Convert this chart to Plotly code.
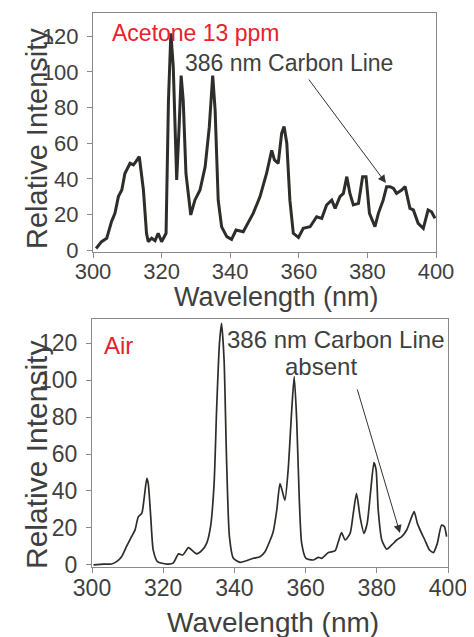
import plotly.graph_objects as go

# Acetone 13 ppm spectrum (top)
wl_acetone = [300.9, 302.5, 304.0, 305.4, 306.4, 307.4, 308.4, 309.3, 310.8, 311.8, 312.5, 313.5,
              314.7, 315.6, 316.1, 317.1, 318.1, 319.0, 320.0, 321.3, 322.0, 322.7, 323.4, 324.4,
              325.1, 325.7, 326.3, 327.1, 328.5, 329.7, 331.2, 332.7, 333.9, 334.9, 335.6, 336.5,
              337.5, 339.0, 340.4, 341.7, 343.8, 345.3, 346.7, 348.7, 350.6, 352.1, 352.9, 354.0,
              355.0, 355.7, 356.5, 357.4, 358.4, 359.9, 361.3, 363.3, 365.2, 366.7, 368.1, 369.6,
              370.6, 372.0, 373.0, 374.0, 374.9, 375.9, 377.4, 378.6, 379.6, 380.6, 382.2, 383.2,
              384.6, 385.6, 386.6, 387.6, 388.5, 390.0, 391.0, 392.4, 393.4, 394.8, 396.3, 397.7,
              398.7, 399.7]
int_acetone = [0.9, 4.7, 6.6, 16.0, 20.6, 30.0, 33.7, 43.0, 48.7, 47.8, 49.6, 52.4,
               33.7, 9.4, 4.7, 6.6, 5.2, 9.4, 4.7, 9.4, 84.0, 121.7, 103.0, 39.3,
               69.0, 98.0, 84.0, 43.0, 19.7, 28.0, 33.7, 46.8, 69.0, 98.0, 78.7, 28.0,
               13.0, 7.5, 6.0, 11.2, 10.3, 16.0, 20.6, 30.0, 43.0, 56.0, 50.6, 48.7,
               65.5, 69.3, 60.0, 28.0, 9.4, 7.1, 12.2, 13.1, 18.7, 17.8, 25.3, 28.0,
               23.4, 30.0, 31.8, 41.2, 31.8, 25.3, 26.2, 41.2, 41.2, 20.6, 13.1, 20.6,
               28.0, 35.6, 35.6, 34.6, 31.8, 33.7, 35.6, 23.4, 22.5, 15.0, 12.2, 22.5,
               21.5, 17.8]

# Air spectrum (bottom)
wl_air = [300.4, 303.2, 305.5, 306.9, 308.3, 309.7, 311.1, 312.1, 313.0, 314.0, 314.7, 315.4,
          315.8, 316.5, 317.2, 318.4, 321.0, 322.8, 324.3, 325.5, 327.1, 328.5, 329.4, 330.8,
          332.2, 333.3, 334.3, 335.0, 335.8, 336.4, 337.1, 337.8, 338.6, 339.7, 341.6, 343.4,
          345.3, 347.2, 348.6, 350.0, 350.9, 351.9, 352.8, 353.5, 354.2, 355.1, 356.1, 356.8,
          357.5, 358.2, 358.9, 360.1, 362.2, 363.6, 364.5, 366.4, 368.3, 369.2, 370.1, 371.1,
          372.5, 373.4, 374.3, 375.3, 376.4, 377.3, 378.3, 379.2, 379.8, 380.4, 381.4, 382.8,
          384.2, 385.6, 387.0, 388.4, 389.8, 390.5, 391.4, 392.6, 393.5, 394.8, 395.9, 397.0,
          398.2, 399.0, 399.6]
int_air = [0.0, 0.5, 0.5, 1.8, 4.5, 10.0, 15.3, 19.0, 26.0, 28.0, 37.0, 46.8,
           44.0, 26.0, 8.0, 1.8, 0.5, 1.0, 6.0, 5.4, 9.4, 7.2, 6.0, 7.7,
           11.7, 20.7, 44.0, 83.8, 119.8, 130.6, 110.8, 56.8, 15.3, 3.6, 1.4, 2.3,
           3.6, 4.5, 7.2, 13.2, 18.0, 29.7, 44.0, 39.6, 35.0, 51.4, 83.8, 101.8,
           78.4, 37.0, 11.7, 3.6, 2.7, 4.1, 3.6, 6.7, 7.7, 12.6, 17.5, 13.5,
           17.1, 28.0, 38.7, 26.0, 17.1, 22.5, 40.5, 55.3, 51.4, 29.7, 13.5, 8.5,
           10.8, 13.5, 15.3, 18.9, 26.0, 28.8, 22.5, 17.1, 13.5, 8.1, 6.7, 11.7,
           21.6, 20.7, 15.3]

x_ticks = [300, 320, 340, 360, 380, 400]
y_ticks = [0, 20, 40, 60, 80, 100, 120]
x_title = "Wavelength (nm)"
y_title = "Relative Intensity"

FONT = "Liberation Sans, Arial, sans-serif"
TXT = "#3f3f3f"
RED = "#e8212e"
LINE = "#2d2d29"
AX = "#8a8a8a"

# page has an 8px body margin; figure is sized to fill the remaining window
W, H = 466, 629
OFF = 8


def px(x):
    return (x - OFF) / W


def py(y):
    return 1 - (y - OFF) / H


fig = go.Figure()
fig.add_trace(go.Scatter(x=wl_acetone, y=int_acetone, mode="lines",
                         line=dict(color=LINE, width=3), xaxis="x", yaxis="y",
                         showlegend=False))
fig.add_trace(go.Scatter(x=wl_air, y=int_air, mode="lines",
                         line=dict(color=LINE, width=1.7, shape="spline", smoothing=0.6),
                         xaxis="x2", yaxis="y2", showlegend=False))


def xax(domain, anchor, tsize):
    return dict(domain=domain, anchor=anchor, range=[300, 400], tickvals=x_ticks,
                ticks="outside", ticklen=5, tickcolor=AX, showline=True, linecolor=AX,
                linewidth=1, mirror=True, showgrid=False, zeroline=False, automargin=False,
                ticklabelstandoff=-5,
                tickfont=dict(family=FONT, size=tsize, color=TXT))


def yax(domain, anchor, rng, tsize):
    return dict(domain=domain, anchor=anchor, range=rng, tickvals=y_ticks,
                ticks="outside", ticklen=5, tickcolor=AX, showline=True, linecolor=AX,
                linewidth=1, mirror=True, showgrid=False, zeroline=False, automargin=False,
                ticklabelstandoff=4,
                tickfont=dict(family=FONT, size=tsize, color=TXT))


fig.update_layout(
    width=W, height=H, margin=dict(l=0, r=0, t=0, b=0, autoexpand=False),
    paper_bgcolor="white", plot_bgcolor="white",
    xaxis=xax([px(93), px(436)], "y", 22),
    yaxis=yax([py(252), py(13)], "x", [-1.1, 133.1], 22),
    xaxis2=xax([px(92), px(448)], "y2", 23),
    yaxis2=yax([py(567), py(319)], "x2", [-1.1, 133], 23),
)

anns = [
    # axis titles
    dict(x=px(276), y=py(297), xref="paper", yref="paper", text=x_title, showarrow=False,
         xanchor="center", yanchor="middle", font=dict(family=FONT, size=27, color=TXT)),
    dict(x=px(273), y=py(622), xref="paper", yref="paper", text=x_title, showarrow=False,
         xanchor="center", yanchor="middle", font=dict(family=FONT, size=28, color=TXT)),
    dict(x=px(37), y=py(139), xref="paper", yref="paper", text=y_title, showarrow=False,
         textangle=-90, xanchor="center", yanchor="middle",
         font=dict(family=FONT, size=29, color=TXT)),
    dict(x=px(37), y=py(455), xref="paper", yref="paper", text=y_title, showarrow=False,
         textangle=-90, xanchor="center", yanchor="middle",
         font=dict(family=FONT, size=30, color=TXT)),
    # panel labels
    dict(x=305.0, y=121.6, xref="x", yref="y", text="Acetone 13 ppm", showarrow=False,
         xanchor="left", yanchor="middle", font=dict(family=FONT, size=23, color=RED)),
    dict(x=326.2, y=104.8, xref="x", yref="y", text="386 nm Carbon Line", showarrow=False,
         xanchor="left", yanchor="middle", font=dict(family=FONT, size=23, color=TXT)),
    dict(x=385.4, y=37.6, xref="x", yref="y", ax=362.6, ay=96.6, axref="x", ayref="y",
         text="", showarrow=True, arrowhead=2, arrowsize=1.6, arrowwidth=1, arrowcolor="#333"),
    dict(x=302.9, y=118.6, xref="x2", yref="y2", text="Air", showarrow=False,
         xanchor="left", yanchor="middle", font=dict(family=FONT, size=24, color=RED)),
    dict(x=337.4, y=121.9, xref="x2", yref="y2", text="386 nm Carbon Line", showarrow=False,
         xanchor="left", yanchor="middle", font=dict(family=FONT, size=24, color=TXT)),
    dict(x=364.3, y=107.5, xref="x2", yref="y2", text="absent", showarrow=False,
         xanchor="center", yanchor="middle", font=dict(family=FONT, size=24, color=TXT)),
    dict(x=386.5, y=17.3, xref="x2", yref="y2", ax=374.4, ay=95.7, axref="x2", ayref="y2",
         text="", showarrow=True, arrowhead=2, arrowsize=1.6, arrowwidth=1, arrowcolor="#333"),
]
fig.update_layout(annotations=anns)

fig.write_html("out.html")
